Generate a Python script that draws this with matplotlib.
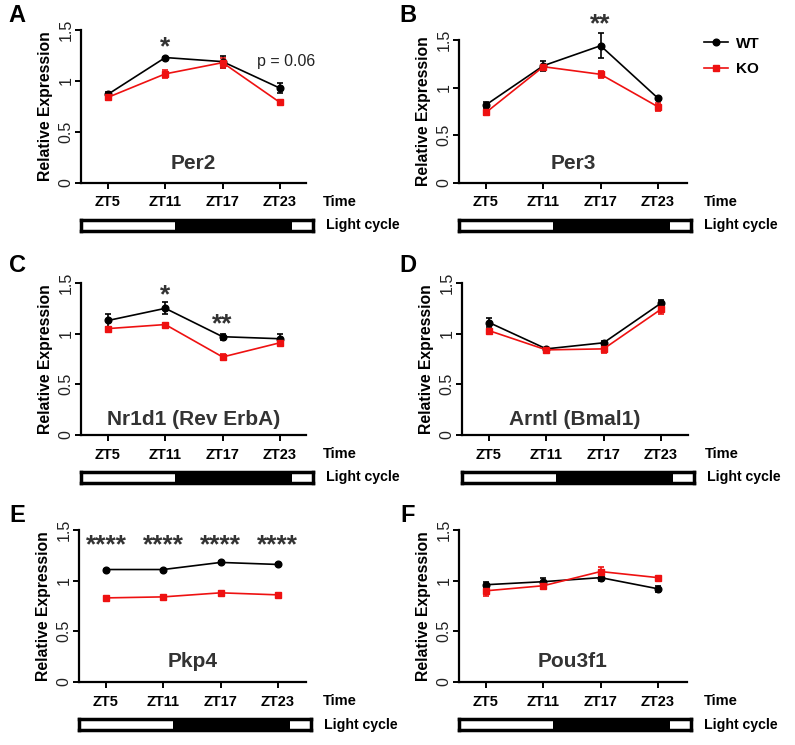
import numpy as np
import matplotlib
matplotlib.use('Agg')
import matplotlib.pyplot as plt
from matplotlib.lines import Line2D

plt.rcParams['font.family'] = ['Liberation Sans', 'DejaVu Sans']

W, H = 795, 745

times = [5, 11, 17, 23]
time_labels = ['ZT5', 'ZT11', 'ZT17', 'ZT23']
letters = ['A', 'B', 'C', 'D', 'E', 'F']
genes = ['Per2', 'Per3', 'Nr1d1 (Rev ErbA)', 'Arntl (Bmal1)', 'Pkp4', 'Pou3f1']

# mean relative expression and error (SEM) per gene
wt_mean = [[0.87, 1.23, 1.19, 0.93],
           [0.82, 1.23, 1.44, 0.89],
           [1.13, 1.25, 0.97, 0.95],
           [1.11, 0.85, 0.91, 1.30],
           [1.11, 1.11, 1.18, 1.16],
           [0.96, 0.99, 1.03, 0.92]]
wt_err = [[0.02, 0.01, 0.06, 0.05],
          [0.03, 0.05, 0.13, 0.01],
          [0.06, 0.06, 0.03, 0.05],
          [0.04, 0.01, 0.02, 0.03],
          [0.01, 0.01, 0.01, 0.01],
          [0.03, 0.04, 0.03, 0.03]]
ko_mean = [[0.84, 1.07, 1.18, 0.79],
           [0.74, 1.22, 1.14, 0.80],
           [1.05, 1.09, 0.77, 0.91],
           [1.03, 0.84, 0.85, 1.24],
           [0.83, 0.84, 0.88, 0.86],
           [0.90, 0.95, 1.09, 1.03]]
ko_err = [[0.03, 0.04, 0.05, 0.01],
          [0.03, 0.02, 0.04, 0.04],
          [0.02, 0.01, 0.03, 0.02],
          [0.02, 0.01, 0.04, 0.05],
          [0.01, 0.01, 0.01, 0.01],
          [0.05, 0.03, 0.04, 0.01]]

# significance marks: (panel, time, y, text)
stars = [(0, 11, 1.33, '*'), (1, 17, 1.66, '**'), (2, 11, 1.38, '*'),
         (2, 17, 1.09, '**'), (4, 5, 1.35, '****'), (4, 11, 1.35, '****'),
         (4, 17, 1.35, '****'), (4, 23, 1.35, '****')]
pval_text = (0, 23.6, 1.19, 'p = 0.06')

# light/dark cycle (ZT hours)
dark_start, dark_end, bar_end = 12, 24.3, 26.5

gene_y = [0.19, 0.2, 0.15, 0.15, 0.2, 0.2]

# axes boxes in pixels: left, top, right, bottom
boxes = [(81, 30, 306, 183), (459, 40, 687, 183),
         (81, 283, 306, 435), (462, 283, 688, 435),
         (79, 530, 306, 682), (459, 530, 687, 682)]
letter_pos = [(17, 15), (408, 15), (17, 265), (408, 265), (17, 515), (408, 515)]

px_per_h = 9.55

fig = plt.figure(figsize=(W / 100, H / 100), dpi=100)

for i in range(6):
    l, t, r, b = boxes[i]
    ax = fig.add_axes([l / W, 1 - b / H, (r - l) / W, (b - t) / H])
    x0 = 5 - 27 / px_per_h
    x1 = x0 + (r - l) / px_per_h

    ax.errorbar(times, wt_mean[i], yerr=wt_err[i], color='black', marker='o',
                markersize=4.8, lw=1.2, elinewidth=1.2, capsize=2, capthick=1.2,
                zorder=3, clip_on=False)
    ax.errorbar(times, ko_mean[i], yerr=ko_err[i], color='#ee1111', marker='s',
                markersize=4.4, lw=1.2, elinewidth=1.2, capsize=2, capthick=1.2,
                zorder=3, clip_on=False)

    ax.set_xlim(x0, x1)
    ax.set_ylim(0, 1.5)
    ax.set_xticks(times)
    ax.set_xticklabels(time_labels, fontweight='bold', fontsize=10.5)
    ax.set_yticks([0, 0.5, 1, 1.5])
    ax.set_yticklabels(['0', '0.5', '1', '1.5'], rotation=90, va='center',
                       fontsize=11.5, color='#222222')
    ax.spines['top'].set_visible(False)
    ax.spines['right'].set_visible(False)
    for s in ['left', 'bottom']:
        ax.spines[s].set_linewidth(1.6)
    ax.tick_params(axis='both', length=4, width=1.4, direction='out')
    ax.tick_params(axis='x', pad=5)
    ax.tick_params(axis='y', pad=1.5)
    ax.set_ylabel('Relative Expression', fontweight='bold', fontsize=11.3,
                  labelpad=4)

    ax.text((x0 + x1) / 2, gene_y[i], genes[i], ha='center', va='center',
            fontsize=15, fontweight='bold', color='#333333')

    ax.annotate('Time', xy=(1, 0), xycoords='axes fraction', xytext=(12, -13.7),
                textcoords='offset points', ha='left', va='center',
                fontweight='bold', fontsize=10.5)

    # light cycle bar
    bw = (bar_end - x0) * px_per_h
    bax = fig.add_axes([l / W, 1 - (b + 48) / H, bw / W, 11 / H])
    bax.barh(0, dark_end - dark_start, left=dark_start, height=1, color='black')
    bax.set_xlim(x0, bar_end)
    bax.set_ylim(-0.5, 0.5)
    bax.set_xticks([])
    bax.set_yticks([])
    for s in bax.spines.values():
        s.set_linewidth(2.5)
    bax.annotate('Light cycle', xy=(1, 0.5), xycoords='axes fraction',
                 xytext=(9, 0), textcoords='offset points', ha='left',
                 va='center', fontweight='bold', fontsize=10.2)

    for p, tt, yy, txt in stars:
        if p == i:
            ax.text(tt, yy, txt, ha='center', va='center', fontsize=19,
                    fontweight='bold', color='#333333', clip_on=False)
    if pval_text[0] == i:
        ax.text(pval_text[1], pval_text[2], pval_text[3], ha='center',
                va='center', fontsize=11.5, color='#222222')

    fig.text(letter_pos[i][0] / W, 1 - letter_pos[i][1] / H, letters[i],
             ha='center', va='center', fontsize=17, fontweight='bold')

handles = [Line2D([], [], color='black', marker='o', markersize=4.8, lw=1.2),
           Line2D([], [], color='#ee1111', marker='s', markersize=4.4, lw=1.2)]
fig.legend(handles, ['WT', 'KO'], loc='upper left',
           bbox_to_anchor=(690 / W, 1 - 23 / H), frameon=False,
           prop={'weight': 'bold', 'size': 11}, handlelength=1.6,
           handletextpad=0.5, labelspacing=0.75)

fig.savefig('out.png', dpi=100)
